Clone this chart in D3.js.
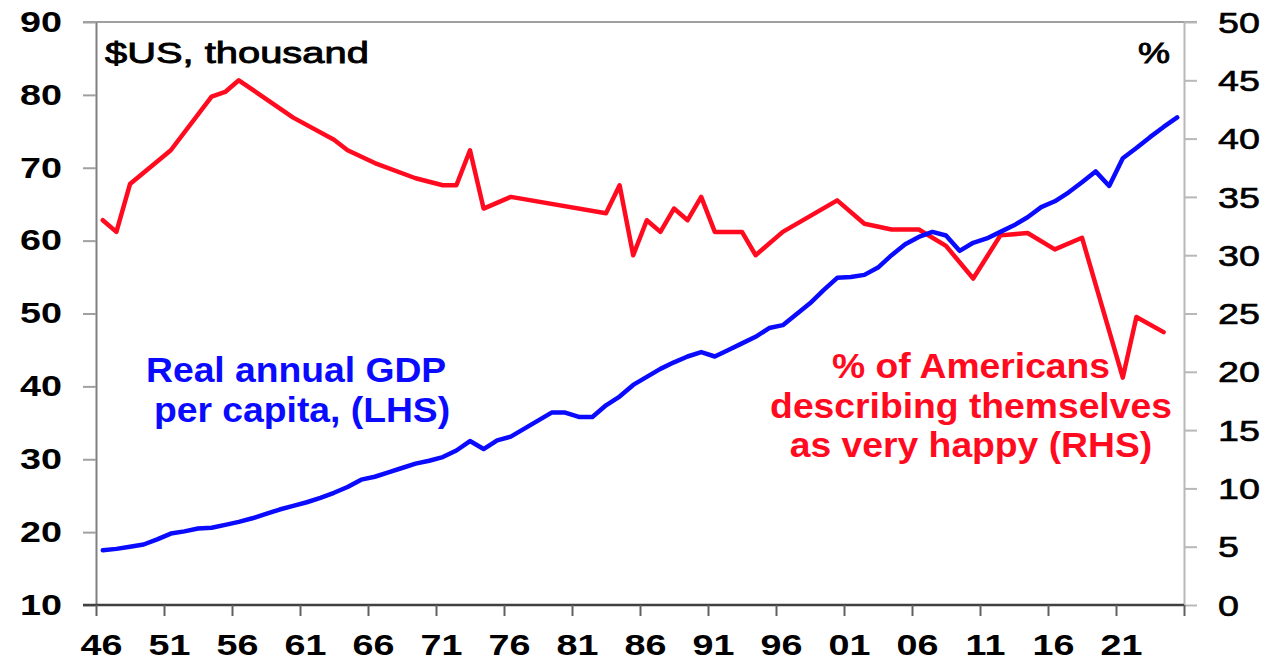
<!DOCTYPE html>
<html><head><meta charset="utf-8">
<script src="https://cdn.jsdelivr.net/npm/d3@7"></script>
<style>
body{margin:0;background:#fff}
svg{display:block}
text{font-family:"Liberation Sans",Arial,sans-serif}
</style>
</head><body>
<svg id="c" width="1271" height="667"></svg>
<script>
// ---- data ----
const gdpYears = d3.range(1946, 2026);
const gdpValues = [
  17.5,17.7,18.0,18.3,19.0,19.8,20.1,20.5,20.6,21.0,
  21.4,21.9,22.5,23.1,23.6,24.1,24.7,25.4,26.2,27.2,
  27.6,28.2,28.8,29.4,29.8,30.3,31.2,32.5,31.4,32.6,
  33.1,34.2,35.3,36.4,36.4,35.8,35.8,37.4,38.6,40.2,
  41.3,42.4,43.3,44.1,44.7,44.1,45.0,45.9,46.8,48.0,
  48.4,49.9,51.4,53.2,54.9,55.0,55.3,56.3,58.0,59.5,
  60.5,61.2,60.7,58.6,59.7,60.3,61.2,62.1,63.2,64.6,
  65.4,66.6,68.0,69.5,67.5,71.3,72.7,74.2,75.6,76.9
];
const happyYears = [1946,1947,1948,1951,1954,1955,1956,1960,1963,1964,1966,1969,1971,1972,1973,1974,1976,1983,1984,1985,1986,1987,1988,1989,1990,1991,1993,1994,1996,2000,2002,2004,2006,2008,2010,2012,2014,2016,2018,2021,2022,2024];
const happyValues = [33.0,32.0,36.1,39.0,43.6,44.0,45.0,41.8,39.9,39.0,37.9,36.6,36.0,36.0,39.0,34.0,35.0,33.6,36.0,30.0,33.0,32.0,34.0,33.0,35.0,32.0,32.0,30.0,32.0,34.7,32.7,32.2,32.2,30.8,28.0,31.7,31.9,30.5,31.5,19.5,24.7,23.4];
const xTickYears = d3.range(1946, 2027, 5);
const xTickLabels = ["46","51","56","61","66","71","76","81","86","91","96","01","06","11","16","21",""];
const leftTicks = [10,20,30,40,50,60,70,80,90];
const rightTicks = [0,5,10,15,20,25,30,35,40,45,50];

// ---- layout ----
const svg = d3.select("#c");
const L = 96, R = 1184, T = 22, B = 605;
const x = d3.scaleLinear().domain([1946, 2026]).range([L, R]);
const yL = d3.scaleLinear().domain([10, 90]).range([B, T]);
const yR = d3.scaleLinear().domain([0, 50]).range([B, T]);
const BLUE = "#0a0aff", RED = "#ff0a1e";

// top border
svg.append("line").attr("x1", L-13).attr("x2", R+13).attr("y1", T).attr("y2", T)
  .attr("stroke", "#a0a0a0").attr("stroke-width", 2);

// left axis
const SXT = 1.3;
const gL = svg.append("g").attr("transform", `translate(${L},0)`)
  .call(d3.axisLeft(yL).tickValues(leftTicks).tickSize(13).tickSizeOuter(0));
gL.select(".domain").attr("stroke", "#808080").attr("stroke-width", 2);
gL.selectAll(".tick line").attr("stroke", "#a0a0a0").attr("stroke-width", 2);
gL.selectAll(".tick text")
  .attr("x", -34 / SXT).attr("dy", "0.32em")
  .attr("transform", `scale(${SXT},1)`)
  .attr("text-anchor", "end")
  .style("font-size", "29px").style("font-weight", "bold").attr("fill", "#000");

// right axis
const gR = svg.append("g").attr("transform", `translate(${R},0)`)
  .call(d3.axisRight(yR).tickValues(rightTicks).tickSize(13).tickSizeOuter(0));
gR.select(".domain").attr("stroke", "#b8b8b8").attr("stroke-width", 2);
gR.selectAll(".tick line").attr("stroke", "#b8b8b8").attr("stroke-width", 2);
gR.selectAll(".tick text")
  .attr("x", 34 / SXT).attr("dy", "0.35em")
  .attr("transform", `scale(${SXT},1)`)
  .attr("text-anchor", "start")
  .style("font-size", "29px").style("font-weight", "normal").attr("fill", "#000")
  .attr("stroke", "#000").attr("stroke-width", 0.6);

// bottom axis
const gB = svg.append("g").attr("transform", `translate(0,${B})`)
  .call(d3.axisBottom(x).tickValues(xTickYears).tickSize(11).tickSizeOuter(0)
    .tickFormat((d, i) => xTickLabels[i]));
gB.select(".domain").attr("stroke", "#404040").attr("stroke-width", 2.5)
  .attr("d", `M${L-13},0H${R}`);
gB.selectAll(".tick line").attr("stroke", "#606060").attr("stroke-width", 2);
gB.selectAll(".tick").each(function(d){
  const t = d3.select(this).select("text");
  t.attr("x", 5 / SXT).attr("y", 50).attr("dy", 0)
   .attr("transform", `scale(${SXT},1)`)
   .attr("text-anchor", "middle")
   .style("font-size", "29px").style("font-weight", "bold").attr("fill", "#000");
});

// lines
const happyData = happyYears.map((yr, i) => ({yr, v: happyValues[i]}));
const gdpData = gdpYears.map((yr, i) => ({yr, v: gdpValues[i]}));
svg.append("path").datum(happyData)
  .attr("d", d3.line().x(d => x(d.yr + 0.5)).y(d => yR(d.v)))
  .attr("fill", "none").attr("stroke", RED).attr("stroke-width", 4.5)
  .attr("stroke-linejoin", "round").attr("stroke-linecap", "round");
svg.append("path").datum(gdpData)
  .attr("d", d3.line().x(d => x(d.yr + 0.5)).y(d => yL(d.v)))
  .attr("fill", "none").attr("stroke", BLUE).attr("stroke-width", 4.5)
  .attr("stroke-linejoin", "round").attr("stroke-linecap", "round");

// texts
function txt(xp, yp, s, o) {
  const t = svg.append("text")
    .attr("transform", `translate(${xp},${yp}) scale(${o.sx},1)`)
    .attr("text-anchor", o.anchor || "start")
    .style("font-size", o.size + "px")
    .style("font-weight", o.weight || "normal")
    .attr("fill", o.fill || "#000")
    .text(s);
  if (o.stroke) t.attr("stroke", o.fill || "#000").attr("stroke-width", o.stroke);
}
txt(105, 63, "$US, thousand", {size: 30, sx: 1.33, stroke: 0.9});
txt(1170, 63, "%", {size: 30, sx: 1.2, anchor: "end", stroke: 0.9});
txt(146, 382, "Real annual GDP", {size: 35, sx: 1.065, weight: "bold", fill: BLUE});
txt(154, 422, "per capita, (LHS)", {size: 35, sx: 1.065, weight: "bold", fill: BLUE});
txt(971, 378, "% of Americans", {size: 35, sx: 1.065, weight: "bold", fill: RED, anchor: "middle"});
txt(971, 418, "describing themselves", {size: 35, sx: 1.065, weight: "bold", fill: RED, anchor: "middle"});
txt(971, 457, "as very happy (RHS)", {size: 35, sx: 1.065, weight: "bold", fill: RED, anchor: "middle"});
</script>
</body></html>
